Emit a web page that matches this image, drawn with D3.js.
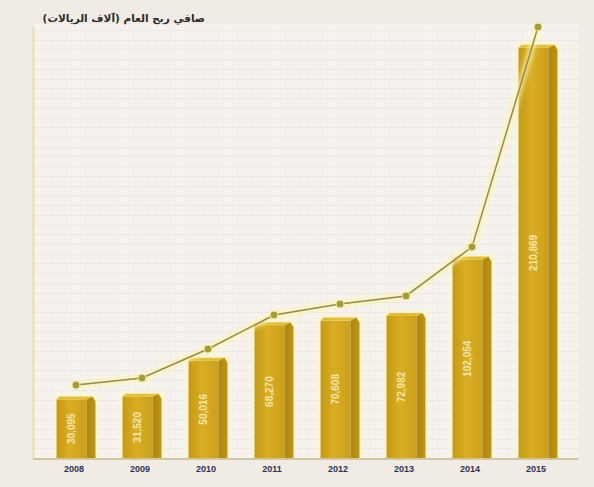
<!DOCTYPE html>
<html>
<head>
<meta charset="utf-8">
<script src="https://cdn.jsdelivr.net/npm/d3@7"></script>
<style>
  html, body { margin: 0; padding: 0; background: #f0ece5; }
  svg { display: block; }
</style>
</head>
<body>
<div id="chart"></div>
<script>
const years = ["2008", "2009", "2010", "2011", "2012", "2013", "2014", "2015"]
const profit = [30095, 31520, 50016, 68270, 70608, 72982, 102054, 210869]
const profitLabels = ["30,095", "31,520", "50,016", "68,270", "70,608", "72,982", "102,054", "210,869"]
const trend = [37500, 41100, 56000, 73500, 79200, 83300, 108500, 221500]
const title = "صافي ربح العام (آلاف الريالات)"

const width = 594
const height = 487
const margin = { top: 28, right: 20, bottom: 29, left: 33 }
const baseY = height - margin.bottom

const svg = d3.select("#chart")
  .append("svg")
  .attr("width", width)
  .attr("height", height)

const defs = svg.append("defs")

const front = defs.append("linearGradient").attr("id", "front")
front.append("stop").attr("offset", "0%").attr("stop-color", "#c49a14")
front.append("stop").attr("offset", "45%").attr("stop-color", "#d9ae24")
front.append("stop").attr("offset", "100%").attr("stop-color", "#cba01a")

const side = defs.append("linearGradient").attr("id", "side")
side.append("stop").attr("offset", "0%").attr("stop-color", "#ad860e")
side.append("stop").attr("offset", "100%").attr("stop-color", "#bd9414")

defs.append("filter").attr("id", "glow")
  .attr("x", "-30%").attr("y", "-30%").attr("width", "160%").attr("height", "160%")
  .append("feGaussianBlur").attr("stdDeviation", 2.5)

const x = d3.scaleBand()
  .domain(years)
  .range([43, 571])
  .paddingInner(0.41)
  .paddingOuter(0.205)

const y = d3.scaleLinear()
  .domain([0, 221000])
  .range([baseY, margin.top])

// plot background + fine grid
svg.append("rect")
  .attr("x", margin.left)
  .attr("y", margin.top - 4)
  .attr("width", width - margin.left - margin.right + 4)
  .attr("height", baseY - margin.top + 4)
  .attr("fill", "#f6f3ef")

const grid = svg.append("g").attr("stroke-width", 1)
grid.selectAll("line.h")
  .data(d3.range(0, 221001, 5000))
  .join("line")
  .attr("class", "h")
  .attr("stroke", "#efe6e2")
  .attr("x1", margin.left)
  .attr("x2", width - margin.right + 4)
  .attr("y1", d => Math.round(y(d)) + 0.5)
  .attr("y2", d => Math.round(y(d)) + 0.5)

grid.selectAll("line.v")
  .data(d3.range(margin.left + 9, width - margin.right + 4, 9.5))
  .join("line")
  .attr("class", "v")
  .attr("stroke", "#f3eeea")
  .attr("x1", d => Math.round(d) + 0.5)
  .attr("x2", d => Math.round(d) + 0.5)
  .attr("y1", margin.top - 4)
  .attr("y2", baseY)

// left rule
svg.append("line")
  .attr("x1", margin.left + 0.5).attr("x2", margin.left + 0.5)
  .attr("y1", margin.top - 2).attr("y2", baseY)
  .attr("stroke", "#eadcae")
  .attr("stroke-width", 2)

// title
svg.append("text")
  .attr("x", 205)
  .attr("y", 22)
  .attr("direction", "rtl")
  .attr("text-anchor", "start")
  .attr("font-family", "DejaVu Sans, Noto Sans, sans-serif")
  .attr("font-size", 10.5)
  .attr("font-weight", "bold")
  .attr("fill", "#2b2b2b")
  .text(title)

// bars
const sideW = 9
const bars = svg.append("g")
  .selectAll("g")
  .data(years.map((d, i) => ({ year: d, value: profit[i], label: profitLabels[i] })))
  .join("g")

bars.append("rect")
  .attr("x", d => x(d.year) - 2)
  .attr("y", d => y(d.value) - 5)
  .attr("width", x.bandwidth() + 4)
  .attr("height", d => baseY - y(d.value) + 5)
  .attr("fill", "#fff6c8")
  .attr("opacity", 0.9)
  .attr("filter", "url(#glow)")

bars.append("rect")
  .attr("x", d => x(d.year))
  .attr("y", d => y(d.value))
  .attr("width", x.bandwidth() - sideW)
  .attr("height", d => baseY - y(d.value))
  .attr("fill", "url(#front)")

bars.append("path")
  .attr("d", d => {
    const x0 = x(d.year) + x.bandwidth() - sideW
    const x1 = x(d.year) + x.bandwidth()
    const t = y(d.value)
    return `M${x0},${t}L${x1 - 3},${t - 3}L${x1},${t + 2}L${x1},${baseY}L${x0},${baseY}Z`
  })
  .attr("fill", "url(#side)")

bars.append("path")
  .attr("d", d => {
    const x0 = x(d.year)
    const x1 = x(d.year) + x.bandwidth() - sideW
    const t = y(d.value)
    return `M${x0},${t}L${x0 + 3},${t - 3}L${x1 + 6},${t - 3}L${x1},${t}Z`
  })
  .attr("fill", "#e0be3a")

bars.append("text")
  .attr("transform", d => {
    const cx = x(d.year) + (x.bandwidth() - sideW) / 2
    const cy = (y(d.value) + baseY) / 2
    return `translate(${cx},${cy}) rotate(-90)`
  })
  .attr("text-anchor", "middle")
  .attr("dy", "0.35em")
  .attr("font-family", "Liberation Sans, Arial, sans-serif")
  .attr("font-size", 10)
  .attr("font-weight", "bold")
  .attr("fill", "#f3e6b0")
  .text(d => d.label)

// axis
svg.append("line")
  .attr("x1", margin.left)
  .attr("x2", width - margin.right + 4)
  .attr("y1", baseY + 1)
  .attr("y2", baseY + 1)
  .attr("stroke", "#c9b88c")
  .attr("stroke-width", 1.5)

svg.append("g")
  .selectAll("text")
  .data(years)
  .join("text")
  .attr("x", d => x(d) + x.bandwidth() / 2 - 2)
  .attr("y", baseY + 14)
  .attr("text-anchor", "middle")
  .attr("font-family", "Liberation Sans, Arial, sans-serif")
  .attr("font-size", 9)
  .attr("font-weight", "bold")
  .attr("fill", "#2d3350")
  .text(d => d)

// trend line
const pts = years.map((d, i) => ({ year: d, value: trend[i] }))
const line = d3.line()
  .x(d => x(d.year) + x.bandwidth() / 2)
  .y(d => y(d.value))

svg.append("path")
  .datum(pts)
  .attr("d", line)
  .attr("fill", "none")
  .attr("stroke", "#fff3a8")
  .attr("stroke-width", 5)
  .attr("filter", "url(#glow)")

svg.append("path")
  .datum(pts)
  .attr("d", line)
  .attr("fill", "none")
  .attr("stroke", "#928a55")
  .attr("stroke-width", 1.5)

svg.selectAll(".dot")
  .data(pts)
  .join("circle")
  .attr("class", "dot")
  .attr("cx", d => x(d.year) + x.bandwidth() / 2)
  .attr("cy", d => y(d.value))
  .attr("r", 4)
  .attr("fill", "#a59b3a")
  .attr("stroke", "#f3e9a0")
  .attr("stroke-width", 1)
</script>
</body>
</html>
